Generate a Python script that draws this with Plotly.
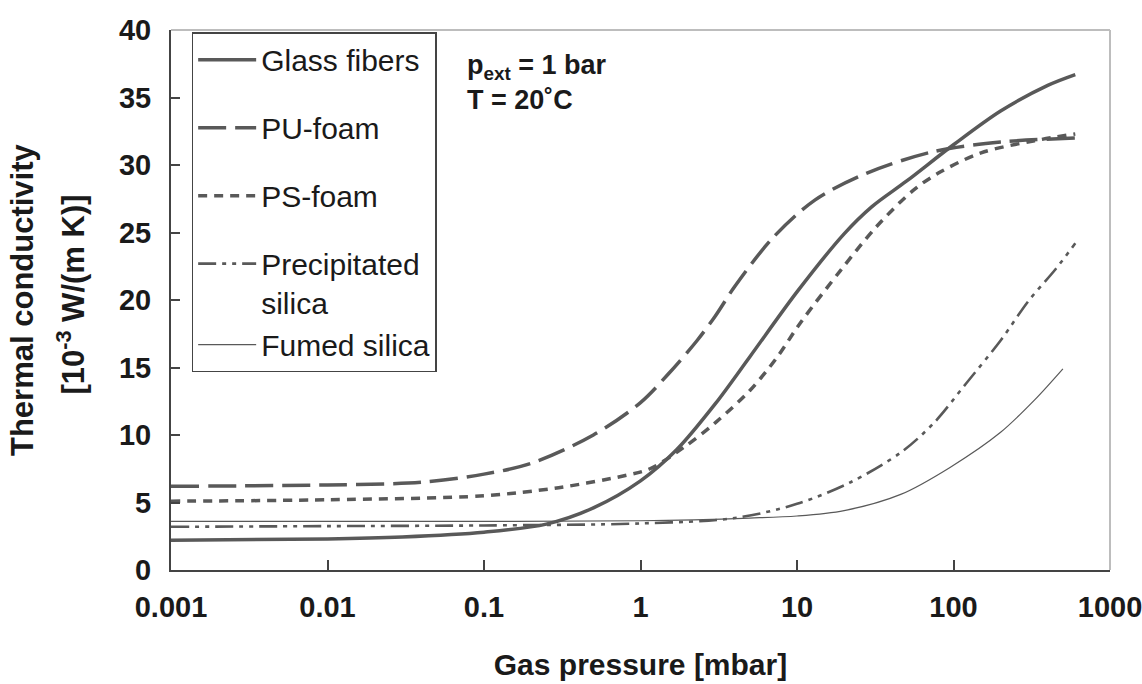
import plotly.graph_objects as go

# ---------------- data ----------------
glass_p = [0.001, 0.01, 0.03, 0.1, 0.25, 0.5, 1, 1.7, 3, 5, 10, 20, 30, 50, 100, 200, 400, 600]
glass_k = [2.2, 2.3, 2.45, 2.8, 3.4, 4.6, 6.6, 8.9, 12.3, 15.8, 20.6, 24.9, 26.9, 28.8, 31.5, 34.0, 35.9, 36.7]

pu_p = [0.001, 0.01, 0.04, 0.1, 0.2, 0.5, 1, 1.5, 2.3, 3, 4, 7, 13, 28, 75, 200, 600]
pu_k = [6.2, 6.3, 6.5, 7.1, 7.9, 10.0, 12.4, 14.5, 17.0, 18.8, 21.0, 24.6, 27.4, 29.4, 31.0, 31.7, 32.0]

ps_p = [0.001, 0.01, 0.1, 0.3, 0.8, 1.15, 1.9, 3, 5, 7.4, 10.5, 19, 32, 55, 80, 150, 330, 600]
ps_k = [5.1, 5.2, 5.5, 6.1, 7.0, 7.5, 9.1, 10.9, 13.3, 15.7, 18.3, 22.2, 25.4, 28.1, 29.4, 30.9, 31.8, 32.3]

prec_p = [0.001, 0.01, 0.1, 1, 4, 10, 22, 46, 75, 120, 200, 300, 450, 600]
prec_k = [3.2, 3.25, 3.3, 3.45, 3.85, 4.9, 6.5, 8.7, 10.9, 13.8, 17.0, 19.9, 22.3, 24.2]

fumed_p = [0.001, 0.1, 1, 5, 10, 20, 46, 95, 200, 330, 500]
fumed_k = [3.6, 3.6, 3.65, 3.85, 4.0, 4.4, 5.6, 7.6, 10.2, 12.6, 14.9]

x_tickvals = [0.001, 0.01, 0.1, 1, 10, 100, 1000]
x_ticktext = ["0.001", "0.01", "0.1", "1", "10", "100", "1000"]
y_tickvals = [0, 5, 10, 15, 20, 25, 30, 35, 40]

series_names = ["Glass fibers", "PU-foam", "PS-foam", "Precipitated<br>silica", "Fumed silica"]

# ---------------- figure ----------------
LINE = "#595959"
FONT = "Liberation Sans, Arial, Helvetica, sans-serif"
TXT = "#1a1a1a"

fig = go.Figure()
styles = [
    (glass_p, glass_k, 3.5, "solid", "g1"),
    (pu_p, pu_k, 3.5, "28px,9px", "g2"),
    (ps_p, ps_k, 3.5, "9px,7px", "g3"),
    (prec_p, prec_k, 2.6, "18px,6px,4px,6px,4px,6px", "g4"),
    (fumed_p, fumed_k, 1.2, "solid", "g4"),
]
for name, (px_, ky, w, dash, grp) in zip(series_names, styles):
    fig.add_trace(go.Scatter(
        x=px_, y=ky, mode="lines", name=name, legendgroup=grp,
        line=dict(color=LINE, width=w, dash=dash, shape="spline", smoothing=0.9),
    ))

fig.update_layout(
    width=1142, height=684,
    margin=dict(l=171, r=32, t=30, b=114),
    paper_bgcolor="white", plot_bgcolor="white",
    font=dict(family=FONT, color=TXT),
    showlegend=True,
    legend=dict(
        x=0.022, y=0.996, xanchor="left", yanchor="top",
        bgcolor="white", bordercolor="#444", borderwidth=1.5,
        font=dict(family=FONT, size=30, color=TXT),
        itemwidth=58, valign="top", tracegroupgap=26,
        traceorder="grouped",
    ),
    xaxis=dict(
        type="log", range=[-3, 3], automargin=False,
        tickvals=x_tickvals, ticktext=x_ticktext,
        ticks="inside", ticklen=10, tickwidth=1.5, tickcolor="#444",
        showline=True, linecolor="#444", linewidth=2,
        showgrid=False, zeroline=False,
        ticklabeloverflow="allow",
        tickfont=dict(family=FONT, size=29, weight="bold", color=TXT),
        ticklabelstandoff=10,
        title=dict(text="Gas pressure [mbar]", standoff=32,
                   font=dict(family=FONT, size=30, weight="bold", color=TXT)),
    ),
    yaxis=dict(
        range=[0, 40], tickvals=y_tickvals, automargin=False,
        ticks="inside", ticklen=9, tickwidth=1.5, tickcolor="#444",
        showline=True, linecolor="#444", linewidth=2,
        showgrid=False, zeroline=False,
        tickfont=dict(family=FONT, size=29, weight="bold", color=TXT),
        ticklabelstandoff=12,
    ),
)

# light frame on top / right
fig.add_shape(type="line", xref="paper", yref="paper", x0=0, x1=1, y0=1, y1=1,
              line=dict(color="#bdbdbd", width=2))
fig.add_shape(type="line", xref="paper", yref="paper", x0=1, x1=1, y0=0, y1=1,
              line=dict(color="#bdbdbd", width=2))

# y-axis title (two lines, wider line spacing than default)
fig.add_annotation(text="Thermal conductivity", textangle=-90,
                   xref="paper", yref="paper", x=0, y=0.5, xshift=-149,
                   xanchor="center", yanchor="middle", showarrow=False,
                   font=dict(family=FONT, size=31, weight="bold", color=TXT))
fig.add_annotation(text="[10<sup>-3</sup> W/(m K)]", textangle=-90,
                   xref="paper", yref="paper", x=0, y=0.51, xshift=-100,
                   xanchor="center", yanchor="middle", showarrow=False,
                   font=dict(family=FONT, size=31, weight="bold", color=TXT))

# conditions note
fig.add_annotation(text="p<sub>ext</sub> = 1 bar<br>T = 20˚C",
                   xref="paper", yref="paper", x=(465 - 171) / 939, y=(570 - 48) / 540,
                   xanchor="left", yanchor="top", align="left", showarrow=False,
                   font=dict(family=FONT, size=27, weight="bold", color=TXT))

fig.write_html("out.html")
